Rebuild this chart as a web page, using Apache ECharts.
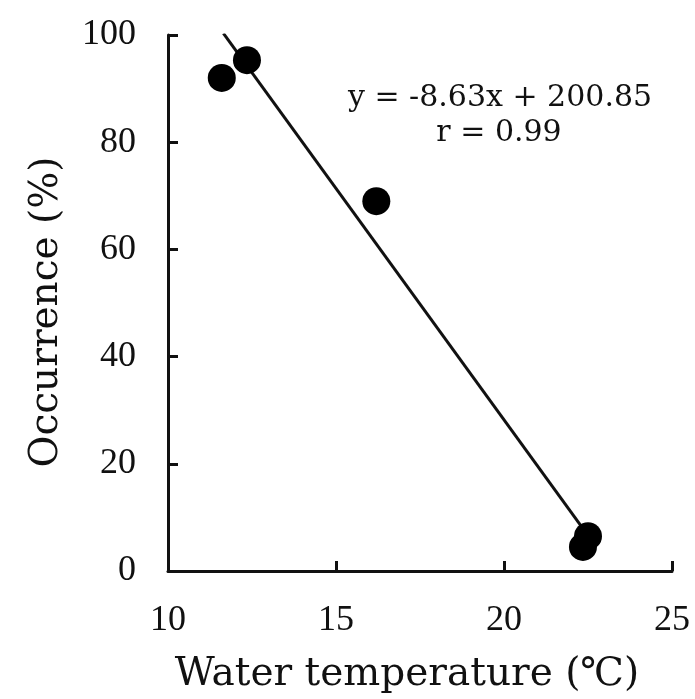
<!DOCTYPE html>
<html>
<head>
<meta charset="utf-8">
<script src="https://cdn.jsdelivr.net/npm/echarts@6/dist/echarts.min.js"></script>
<style>
    html, body {margin: 0; padding: 0; background: #fff;}
    #main {width: 695px; height: 699px;}
</style>
</head>
<body>
<div id="main"></div>
<script>
// 数据点 (水温, 出现率)
var tempX = [11.6, 12.35, 16.2, 22.5, 22.35];
var occurY = [92, 95.3, 69, 6.5, 4.5];
// 回归直线的两端
var fitX = [11.65, 22.4];
var fitY = [100.3, 7.5];
// 文字
var eqLine1 = 'y = -8.63x + 200.85';
var eqLine2 = 'r = 0.99';
var xTicks = [10, 15, 20, 25];
var yTicks = [0, 20, 40, 60, 80, 100];

(function () {
    var chart = echarts.init(document.getElementById('main'));

    var points = [];
    for (var i = 0; i < tempX.length; i++) {
        points.push([tempX[i], occurY[i]]);
    }
    var fit = [];
    for (var j = 0; j < fitX.length; j++) {
        fit.push([fitX[j], fitY[j]]);
    }

    var axisCommon = {
        axisLine: {show: true, onZero: false, lineStyle: {color: '#111', width: 3}},
        axisTick: {show: true, inside: true, length: 10, lineStyle: {color: '#111', width: 3}},
        splitLine: {show: false},
        axisLabel: {color: '#111', fontFamily: 'Liberation Serif', fontSize: 36, margin: 32}
    };

    var option = {
        animation: false,
        backgroundColor: '#fff',
        grid: {left: 168, right: 23, top: 35, bottom: 127},
        xAxis: Object.assign({}, axisCommon, {
            type: 'value',
            min: xTicks[0],
            max: xTicks[xTicks.length - 1],
            interval: 5,
            name: 'Water temperature (℃)',
            nameLocation: 'middle',
            nameGap: 84,
            nameTextStyle: {color: '#111', fontFamily: 'DejaVu Serif', fontSize: 39, padding: [0, 26, 0, 0]}
        }),
        yAxis: Object.assign({}, axisCommon, {
            type: 'value',
            min: yTicks[0],
            max: yTicks[yTicks.length - 1],
            interval: 20,
            name: 'Occurrence (%)',
            nameLocation: 'middle',
            nameGap: 102,
            nameTextStyle: {color: '#111', fontFamily: 'DejaVu Serif', fontSize: 39, padding: [0, 18, 0, 0]}
        }),
        graphic: [
            {
                type: 'text', x: 500, y: 98,
                style: {text: eqLine1, fill: '#111', font: '30px "DejaVu Serif"', textAlign: 'center', textVerticalAlign: 'middle'}
            },
            {
                type: 'text', x: 499, y: 133,
                style: {text: eqLine2, fill: '#111', font: '30px "DejaVu Serif"', textAlign: 'center', textVerticalAlign: 'middle'}
            }
        ],
        series: [
            {
                name: 'fit',
                type: 'line',
                data: fit,
                symbol: 'none',
                lineStyle: {color: '#111', width: 3},
                z: 2
            },
            {
                name: 'data',
                type: 'scatter',
                data: points,
                symbol: 'circle',
                symbolSize: 28,
                itemStyle: {color: '#000', opacity: 1},
                z: 3
            }
        ]
    };
    chart.setOption(option);
})();
</script>
</body>
</html>
